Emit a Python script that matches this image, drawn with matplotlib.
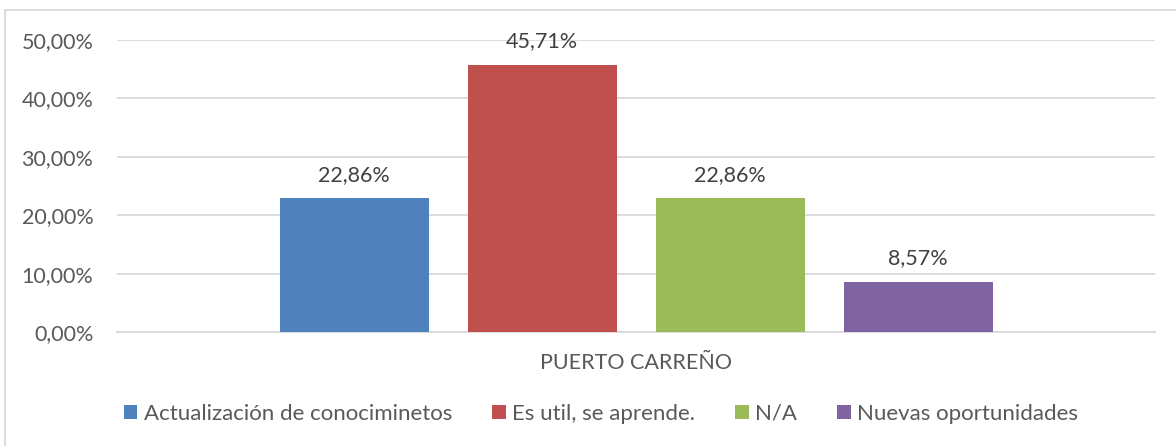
import numpy as np
import matplotlib.pyplot as plt
from matplotlib.patches import Patch, Rectangle

plt.rcParams['font.family'] = ['Lato', 'DejaVu Sans']

# Data (legend text kept as in the source, typo included)
category = "PUERTO CARREÑO"
series_names = ["Actualización de conocimientos", "Es util, se aprende.", "N/A", "Nuevas oportunidades"]
series_names[0] = "Actualización de conocim" + "inetos"
values = [0.2286, 0.4571, 0.2286, 0.0857]
value_labels = ["22,86%", "45,71%", "22,86%", "8,57%"]
y_ticks = [0.0, 0.1, 0.2, 0.3, 0.4, 0.5]
y_tick_labels = ["0,00%", "10,00%", "20,00%", "30,00%", "40,00%", "50,00%"]
colors = ["#4f81bd", "#c0504d", "#9bbb59", "#8064a2"]

FS = 15.5
W, H = 1176, 446
fig = plt.figure(figsize=(W / 100, H / 100), dpi=100)
ax = fig.add_axes([117 / W, 1 - 332 / H, (1155 - 117) / W, (332 - 40) / H])

bar_w = 149 / 1038
step = 188 / 1038
n = len(values)
for i, (v, lab, c) in enumerate(zip(values, value_labels, colors)):
    x = (i - (n - 1) / 2) * step
    ax.bar(x, v, width=bar_w, color=c, zorder=3)
    ax.annotate(lab, (x, v), xytext=(0, 10), textcoords="offset points",
                ha="center", va="bottom", fontsize=FS, color="#404040")

ax.set_xlim(-0.5, 0.5)
ax.set_ylim(0, 0.5)
ax.set_yticks(y_ticks)
ax.set_yticklabels(y_tick_labels, fontsize=FS, color="#595959")
ax.set_xticks([0])
ax.set_xticklabels([category], fontsize=FS, color="#595959")
ax.tick_params(axis="both", length=0)
ax.tick_params(axis="y", pad=17)
ax.tick_params(axis="x", pad=15)
ax.grid(axis="y", color="#d9d9d9", linewidth=1.3, zorder=0)
for s in ["top", "right", "left"]:
    ax.spines[s].set_visible(False)
ax.spines["bottom"].set_color("#d9d9d9")
ax.spines["bottom"].set_linewidth(1.3)

handles = [Patch(facecolor=c, edgecolor="none") for c in colors]
fig.legend(handles, series_names, loc="center", bbox_to_anchor=(601 / W, 1 - 414 / H),
           ncol=4, frameon=False, fontsize=16, labelcolor="#595959",
           handlelength=0.6, handleheight=0.6, handletextpad=0.3, columnspacing=1.8)

# chart border
fig.patches.append(Rectangle((5 / W, -0.1), 2, 1.1 - 10 / H, transform=fig.transFigure,
                             fill=False, edgecolor="#d9d9d9", linewidth=1.3))

fig.savefig("out.png", dpi=100)
